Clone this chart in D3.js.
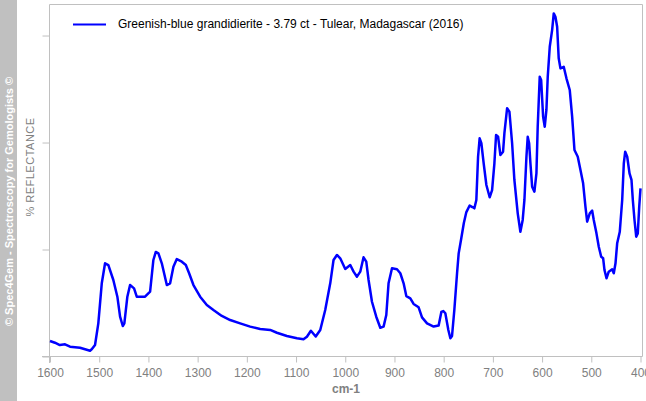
<!DOCTYPE html>
<html>
<head>
<meta charset="utf-8">
<script src="https://cdn.jsdelivr.net/npm/d3@7"></script>
<style>
  html, body { margin: 0; padding: 0; background: #ffffff; }
  svg { display: block; }
  text { font-family: "Liberation Sans", Arial, sans-serif; }
</style>
</head>
<body>
<svg id="chart" width="646" height="401"></svg>
<script>
// ---- data ----
const seriesName = "Greenish-blue grandidierite - 3.79 ct - Tulear, Madagascar (2016)";
const wavenumbers = [
  1600, 1590, 1580, 1569.5, 1559.3, 1539, 1518.6, 1515.2, 1508.5, 1501.8,
  1494.8, 1488.1, 1481.4, 1471.3, 1463.1, 1457.6, 1452.1, 1448.9, 1442.8, 1437.3,
  1429.2, 1423.7, 1406.8, 1396.6, 1389.9, 1385.0, 1379.7, 1372.8, 1362.6, 1355.9,
  1349.2, 1342.3, 1332.1, 1324.0, 1317.3, 1308.5, 1294.9, 1281.3, 1267.9, 1250.8,
  1233.9, 1213.6, 1193.2, 1172.9, 1152.5, 1138.9, 1118.6, 1098.2, 1084.8, 1077.9,
  1069.8, 1060.0, 1050.8, 1040.7, 1030.5, 1023.8, 1016.9, 1010.2, 1000.0, 989.8,
  983.1, 976.2, 969.5, 962.8, 957.3, 952.6, 945.7, 937.0, 928.8, 922.1,
  916.6, 912.0, 905.0, 894.9, 888.1, 881.4, 875.9, 867.8, 861.1, 850.9,
  844.0, 833.8, 820.4, 810.2, 804.7, 800.7, 796.6, 790.5, 786.4, 783.0,
  778.3, 772.8, 769.5, 764.1, 759.0, 753.9, 747.2, 741.7, 737.6, 733.6,
  730.1, 726.9, 723.4, 718.7, 713.2, 706.5, 701.6, 696.9, 693.5, 689.4,
  684.7, 679.3, 676.6, 671.1, 666.4, 660.9, 656.3, 649.5, 644.1, 639.4,
  635.9, 631.8, 629.2, 626.3, 623.7, 620.2, 615.6, 611.5, 608.9, 604.8,
  601.9, 597.9, 594.6, 591.2, 588.5, 584.4, 579.6, 576.3, 572.9, 569.4,
  566.2, 562.7, 556.0, 550.5, 543.8, 538.9, 534.2, 527.5, 522.0, 516.6,
  511.9, 508.4, 503.1, 498.2, 495.0, 489.5, 484.8, 479.9, 475.9, 473.2,
  469.1, 464.5, 457.6, 454.3, 450.8, 447.4, 442.1, 437.2, 433.9, 431.1,
  427.0, 422.3, 418.3, 415.6, 412.2, 408.7, 405.5, 402.6, 400
];
const reflectance = [
  1.45, 1.29, 1.07, 1.14, 0.92, 0.82, 0.54, 0.67, 1.07, 3.10,
  6.84, 8.71, 8.55, 7.15, 5.59, 3.72, 2.85, 3.10, 5.59, 6.68,
  6.37, 5.59, 5.59, 6.06, 9.02, 9.77, 9.64, 8.71, 6.68, 6.84,
  8.39, 9.11, 8.86, 8.55, 7.78, 6.68, 5.59, 4.81, 4.35, 3.79,
  3.41, 3.10, 2.79, 2.57, 2.48, 2.22, 1.92, 1.70, 1.61, 1.85,
  2.41, 1.87, 2.48, 4.35, 6.84, 9.02, 9.49, 9.18, 8.18, 8.55,
  7.93, 7.46, 7.93, 9.27, 8.86, 7.15, 5.12, 3.72, 2.69, 2.79,
  3.88, 6.84, 8.24, 8.15, 7.78, 6.84, 5.65, 5.44, 4.91, 4.60,
  3.66, 3.10, 2.80, 2.90, 4.16, 4.25, 4.04, 2.48, 1.70, 1.92,
  4.35, 7.78, 9.64, 11.07, 12.48, 13.50, 14.11, 13.97, 13.85, 14.63,
  18.67, 20.39, 19.93, 18.06, 16.03, 14.88, 15.56, 18.06, 20.70, 20.54,
  18.83, 19.14, 20.86, 23.20, 22.88, 19.93, 16.50, 13.38, 11.66, 12.76,
  14.63, 18.67, 20.54, 19.93, 18.06, 15.87, 15.40, 17.12, 21.48, 26.15,
  25.84, 22.41, 21.48, 23.04, 26.15, 28.95, 30.51, 32.07, 31.76, 30.82,
  27.87, 26.93, 27.08, 26.00, 24.91, 22.41, 19.30, 18.67, 17.43, 16.19,
  14.00, 12.60, 13.38, 13.63, 12.76, 11.51, 10.26, 9.33, 9.18, 8.08,
  7.31, 7.93, 8.15, 7.78, 8.71, 10.58, 11.66, 14.63, 18.06, 19.14,
  18.67, 17.12, 16.50, 14.63, 12.76, 11.20, 11.51, 14.00, 15.72
];
const xTicks = [1600, 1500, 1400, 1300, 1200, 1100, 1000, 900, 800, 700, 600, 500, 400];
const yTicks = [0, 10, 20, 30];
const xLabel = "cm-1";
const yLabel = "% REFLECTANCE";
const watermark = "© Spec4Gem - Spectroscopy for Gemologists ©";

// ---- layout ----
const svg = d3.select("#chart");
const pLeft = 49.5, pRight = 642.5, pTop = 4.5, pBottom = 356.5;
const x = d3.scaleLinear().domain([1600, 400]).range([50, 640.5]);
const y = d3.scaleLinear().domain([0, 32.9]).range([pBottom, pTop]);
const axisColor = "#c0c0c0";
const textGray = "#808080";

// watermark band
svg.append("rect").attr("x", 0).attr("y", 0).attr("width", 17).attr("height", 401).attr("fill", "#c0c0c0");
svg.append("text")
  .attr("transform", "translate(12.5,201.5) rotate(-90)")
  .attr("text-anchor", "middle")
  .attr("font-size", 11).attr("font-weight", "bold")
  .attr("fill", "#ffffff")
  .text(watermark);

// frame top and right
svg.append("path")
  .attr("d", `M${pLeft},${pTop}H${pRight}V${pBottom}`)
  .attr("fill", "none").attr("stroke", axisColor).attr("stroke-width", 1);

// x axis
const xAxis = d3.axisBottom(x).tickValues(xTicks).tickSize(6).tickSizeOuter(0).tickFormat(d3.format("d"));
const gx = svg.append("g").attr("transform", `translate(0,${pBottom})`).call(xAxis);
gx.select(".domain").remove();
gx.append("path").attr("d", `M42,0H${pRight}`).attr("stroke", axisColor).attr("fill", "none");
gx.selectAll(".tick line").attr("stroke", axisColor);
gx.selectAll(".tick text").attr("fill", textGray).attr("font-size", 12)
  .attr("font-family", "'Liberation Sans', Arial, sans-serif").attr("dy", null).attr("y", 20);

// y axis
const yAxis = d3.axisLeft(y).tickValues(yTicks).tickSize(7).tickSizeOuter(0).tickFormat("");
const gy = svg.append("g").attr("transform", `translate(${pLeft},0)`).call(yAxis);
gy.select(".domain").remove();
gy.append("path").attr("d", `M0,${pTop}V363`).attr("stroke", axisColor).attr("fill", "none");
gy.selectAll(".tick line").attr("stroke", axisColor);

// axis labels
svg.append("text").attr("x", 346).attr("y", 393).attr("text-anchor", "middle")
  .attr("font-size", 12).attr("font-weight", "bold").attr("fill", textGray).text(xLabel);
svg.append("text")
  .attr("transform", "translate(33.5,167) rotate(-90)")
  .attr("text-anchor", "middle").attr("font-size", 11)
  .attr("letter-spacing", 0.5).attr("fill", textGray).text(yLabel);

// line
const data = wavenumbers.map((w, i) => ({ w, r: reflectance[i] }));
const line = d3.line().x(d => x(d.w)).y(d => y(d.r)).curve(d3.curveLinear);
svg.append("path").datum(data).attr("d", line)
  .attr("fill", "none").attr("stroke", "#0000ff").attr("stroke-width", 2.5)
  .attr("stroke-linejoin", "round");

// legend
svg.append("line").attr("x1", 73).attr("x2", 106).attr("y1", 24.5).attr("y2", 24.5)
  .attr("stroke", "#0000ff").attr("stroke-width", 2);
svg.append("text").attr("x", 118).attr("y", 28).attr("font-size", 12).attr("fill", "#000000").text(seriesName);
</script>
</body>
</html>
